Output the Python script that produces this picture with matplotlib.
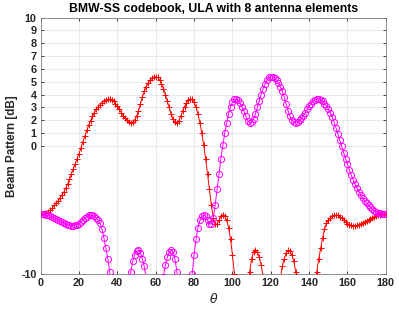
import numpy as np
import matplotlib
matplotlib.use("Agg")
import matplotlib.pyplot as plt

theta_deg = list(range(0, 181))

beam1_db = [
    -5.3, -5.28, -5.25, -5.2, -5.12, -5.0, -4.85, -4.65, -4.45, -4.3,
    -4.1, -3.85, -3.6, -3.3, -3.0, -2.6, -2.2, -1.8, -1.4, -1.0,
    -0.6, -0.15, 0.3, 0.75, 1.2, 1.6, 1.95, 2.3, 2.6, 2.85,
    3.05, 3.22, 3.37, 3.5, 3.58, 3.63, 3.65, 3.6, 3.48, 3.3,
    3.1, 2.85, 2.6, 2.35, 2.15, 2.0, 1.88, 1.82, 1.85, 2.0,
    2.3, 2.75, 3.25, 3.8, 4.25, 4.62, 4.9, 5.1, 5.27, 5.37,
    5.4, 5.33, 5.15, 4.85, 4.45, 4.0, 3.5, 3.0, 2.5, 2.1,
    1.85, 1.8, 1.95, 2.3, 2.7, 3.05, 3.35, 3.55, 3.65, 3.62,
    3.4, 3.05, 2.5, 1.8, 1.0, 0.05, -1.0, -2.2, -3.4, -4.6,
    -5.6, -6.1, -6.1, -5.8, -5.5, -5.4, -5.5, -5.8, -6.4, -7.3,
    -8.5, -10.0, -11.8, -14.0, -17.0, -20.0, -16.0, -13.0, -11.3, -9.8,
    -8.8, -8.25, -8.1, -8.3, -8.7, -9.3, -10.2, -11.5, -13.5, -17.0,
    -22.0, -20.0, -16.0, -13.5, -11.7, -10.3, -9.4, -8.8, -8.35, -8.15,
    -8.2, -8.5, -9.0, -9.8, -11.0, -12.8, -15.0, -18.0, -22.0, -20.0,
    -16.0, -13.5, -11.8, -11.0, -9.8, -8.8, -8.0, -7.2, -6.5, -6.05,
    -5.8, -5.62, -5.5, -5.43, -5.4, -5.42, -5.52, -5.65, -5.8, -5.95,
    -6.07, -6.15, -6.2, -6.23, -6.23, -6.2, -6.15, -6.08, -6.0, -5.92,
    -5.84, -5.76, -5.68, -5.6, -5.53, -5.47, -5.42, -5.38, -5.35, -5.32,
    -5.3,
]

beam2_db = [
    -5.3, -5.32, -5.35, -5.38, -5.42, -5.47, -5.53, -5.6, -5.68, -5.76,
    -5.84, -5.92, -6.0, -6.08, -6.15, -6.2, -6.23, -6.23, -6.2, -6.15,
    -6.07, -5.95, -5.8, -5.65, -5.52, -5.42, -5.4, -5.43, -5.5, -5.62,
    -5.8, -6.05, -6.5, -7.2, -8.0, -8.8, -9.8, -11.0, -11.8, -13.5,
    -16.0, -20.0, -22.0, -18.0, -15.0, -12.8, -11.0, -9.8, -9.0, -8.5,
    -8.2, -8.15, -8.35, -8.8, -9.4, -10.3, -11.7, -13.5, -16.0, -20.0,
    -22.0, -17.0, -13.5, -11.5, -10.2, -9.3, -8.7, -8.3, -8.1, -8.25,
    -8.8, -9.8, -11.3, -13.0, -16.0, -20.0, -17.0, -14.0, -11.8, -10.0,
    -8.5, -7.3, -6.4, -5.8, -5.5, -5.4, -5.5, -5.8, -6.1, -6.1,
    -5.6, -4.6, -3.4, -2.2, -1.0, 0.05, 1.0, 1.8, 2.5, 3.05,
    3.4, 3.62, 3.65, 3.55, 3.35, 3.05, 2.7, 2.3, 1.95, 1.8,
    1.85, 2.1, 2.5, 3.0, 3.5, 4.0, 4.45, 4.85, 5.15, 5.33,
    5.4, 5.37, 5.27, 5.1, 4.9, 4.62, 4.25, 3.8, 3.25, 2.75,
    2.3, 2.0, 1.85, 1.82, 1.88, 2.0, 2.15, 2.35, 2.6, 2.85,
    3.1, 3.3, 3.48, 3.6, 3.65, 3.63, 3.58, 3.5, 3.3, 3.12,
    2.9, 2.6, 2.25, 1.85, 1.4, 0.95, 0.45, -0.05, -0.55, -1.0,
    -1.45, -1.9, -2.3, -2.65, -3.0, -3.3, -3.6, -3.85, -4.1, -4.3,
    -4.48, -4.65, -4.8, -4.95, -5.07, -5.15, -5.22, -5.26, -5.28, -5.3,
    -5.3,
]

x_ticks = [0, 20, 40, 60, 80, 100, 120, 140, 160, 180]
y_ticks = [-10, 0, 1, 2, 3, 4, 5, 6, 7, 8, 9, 10]

title_text = "BMW-SS codebook, ULA with 8 antenna elements"
y_label = "Beam Pattern [dB]"
x_label = r"$\theta$"

plt.rcParams['font.family'] = ['Liberation Sans', 'DejaVu Sans']
plt.rcParams['mathtext.fontset'] = 'dejavusans'

fig = plt.figure(figsize=(3.99, 3.09), dpi=100)
ax = fig.add_axes([0.102, 0.113, 0.865, 0.830])

ax.plot(theta_deg, beam1_db, color='#FF0000', linewidth=0.7, marker='+',
        markersize=4.5, markeredgewidth=0.7, zorder=3)
ax.plot(theta_deg, beam2_db, color='#FF00FF', linewidth=0.7, marker='o',
        markersize=4.4, markeredgewidth=0.7, markerfacecolor='none', zorder=3)

ax.set_xlim(0, 180)
ax.set_ylim(-10, 10)
ax.set_xticks(x_ticks)
ax.set_yticks(y_ticks)
ax.set_xticklabels([str(v) for v in x_ticks], fontweight='bold', fontsize=7.8, color='#262626')
ax.set_yticklabels([str(v) for v in y_ticks], fontweight='bold', fontsize=7.8, color='#262626')
ax.tick_params(direction='in', length=2.5, width=0.6, colors='#262626',
               top=True, right=True, pad=3)
ax.grid(True, color='#E6E6E6', linewidth=0.6, zorder=0)
ax.set_axisbelow(True)
for s in ax.spines.values():
    s.set_color('#808080')
    s.set_linewidth(0.6)

ax.set_title(title_text, fontsize=8.8, fontweight='bold', color='#000000', pad=4)
ax.set_ylabel(y_label, fontsize=8.4, fontweight='bold', color='#262626', labelpad=2)
ax.set_xlabel(x_label, fontsize=9, color='#262626', labelpad=3)

fig.savefig("out.png", dpi=100)
